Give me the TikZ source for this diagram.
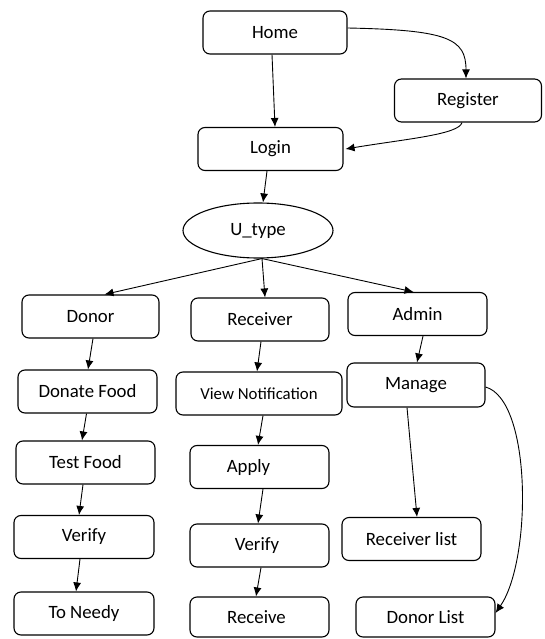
\documentclass[tikz,border=0pt]{standalone}
\usepackage{fontspec}
\setmainfont{Carlito}
\usetikzlibrary{arrows.meta,shapes.geometric}
\begin{document}
\begin{tikzpicture}[x=1pt,y=-1pt,
  box/.style={draw,line width=1.1pt,rounded corners=7pt,minimum height=43pt,inner sep=0pt,font=\fontsize{18.8}{21}\selectfont},
  arr/.style={line width=0.9pt,-{Latex[length=9pt,width=8pt]}}]
\useasboundingbox (0,0) rectangle (544,639);
\node[box,minimum width=144pt] (home) at (275,32.5) {Home};
\node[box,minimum width=147pt] (reg) at (468,100.5) {Register};
\node[box,minimum width=145pt] (login) at (270.5,149) {Login};
\node[draw,ellipse,line width=1.1pt,minimum width=150pt,minimum height=55pt,inner sep=0pt,font=\fontsize{18.8}{21}\selectfont] (ut) at (258,230.5) {U\_type};
\node[box,minimum width=137pt] (donor) at (90.5,316.5) {Donor};
\node[box,minimum width=138pt] (recv) at (260,319.5) {Receiver};
\node[box,minimum width=139pt] (admin) at (417.5,314) {Admin};
\node[box,minimum width=139pt] (donate) at (87.5,391.5) {Donate Food};
\node[box,minimum width=166pt,font=\fontsize{16.8}{19}\selectfont] (view) at (259,393.5) {View Notification};
\node[box,minimum width=138pt,minimum height=44pt] (manage) at (416,385) {Manage};
\node[box,minimum width=139pt] (test) at (85.5,462.5) {Test Food};
\node[box,minimum width=139pt] (apply) at (259.5,467) {Apply\hspace*{22pt}};
\node[box,minimum width=140pt] (ver1) at (84,537) {Verify};
\node[box,minimum width=139pt] (ver2) at (259.5,545.5) {Verify\hspace*{5pt}};
\node[box,minimum width=139pt] (rlist) at (411.5,539) {Receiver list};
\node[box,minimum width=140pt] (needy) at (84,613.5) {To Needy};
\node[box,minimum width=139pt,minimum height=40pt] (rcv) at (259.5,617) {Receive\hspace*{6pt}};
\node[box,minimum width=139pt,minimum height=40pt] (dlist) at (425.5,617) {Donor List};
% connectors
\draw[arr] ([xshift=-3pt]home.south) -- ([xshift=4.5pt]login.north);
\draw[arr] ([yshift=4.5pt]home.east) .. controls +(100pt,-2pt) and +(0,40pt) .. ([xshift=-2pt]reg.north);
\draw[arr] ([xshift=-6pt]reg.south) .. controls +(-3pt,-12pt) and +(60pt,10pt) .. ([xshift=2pt]login.east);
\draw[arr] ([xshift=-3.5pt]login.south) -- ([xshift=5pt]ut.north);
\draw[arr] ([xshift=4pt]ut.south) -- ([xshift=14pt]donor.north);
\draw[arr] ([xshift=4pt]ut.south) -- ([xshift=5pt]recv.north);
\draw[arr] ([xshift=4pt]ut.south) -- ([xshift=-4pt]admin.north);
\draw[arr] ([xshift=2.5pt]donor.south) -- ([xshift=0.5pt]donate.north);
\draw[arr] ([xshift=1pt]recv.south) -- ([xshift=-2pt]view.north);
\draw[arr] ([xshift=5.5pt]admin.south) -- ([xshift=1pt]manage.north);
\draw[arr] ([xshift=-1pt]donate.south) -- ([xshift=-3.5pt]test.north);
\draw[arr] ([xshift=-2.5pt]test.south) -- ([xshift=-5pt]ver1.north);
\draw[arr] ([xshift=-4pt]ver1.south) -- ([xshift=-8pt]needy.north);
\draw[arr] ([xshift=4pt]view.south) -- ([xshift=-1.5pt]apply.north);
\draw[arr] ([xshift=3.5pt]apply.south) -- ([xshift=-1.5pt]ver2.north);
\draw[arr] ([xshift=1.5pt]ver2.south) -- ([xshift=-3.5pt]rcv.north);
\draw[arr] ([xshift=-9pt]manage.south) -- ([xshift=5.5pt]rlist.north);
\draw[arr] ([yshift=-2pt]manage.east) .. controls (532,400) and (532,560) .. ([yshift=4pt]dlist.east);
\end{tikzpicture}
\end{document}
